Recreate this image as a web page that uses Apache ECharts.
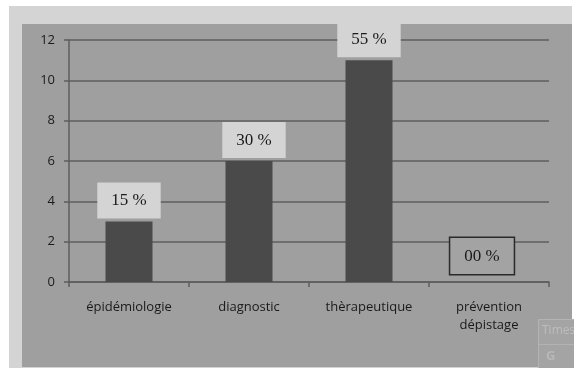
<!DOCTYPE html>
<html>
<head>
<meta charset="utf-8">
<script src="https://cdn.jsdelivr.net/npm/echarts@6/dist/echarts.min.js"></script>
<style>
  html, body { margin: 0; padding: 0; background: #ffffff; }
  #chart { width: 574px; height: 368px; }
</style>
</head>
<body>
<div id="chart"></div>
<script>
// Répartition des publications par domaine
const categories = ['épidémiologie', 'diagnostic', 'thèrapeutique', 'prévention\ndépistage'];
const counts = [3, 6, 11, 0];
const pctLabels = ['15 %', '30 %', '55 %', '00 %'];
const yTicks = { min: 0, max: 12, interval: 2 };

const chart = echarts.init(document.getElementById('chart'), null, { renderer: 'canvas' });

const labelBase = {
  show: true,
  position: 'top',
  distance: 3,
  fontFamily: 'Liberation Serif',
  fontSize: 17,
  color: '#1a1a1a',
  backgroundColor: '#d4d4d4',
  padding: [9, 14, 8, 14],
  lineHeight: 19
};

const barData = counts.map((v, i) => {
  const item = { value: v, label: Object.assign({}, labelBase, { formatter: pctLabels[i] }) };
  if (i === 1) item.label.offset = [5, 0];
  if (v === 0) {
    item.label.backgroundColor = '#a3a3a3';
    item.label.borderColor = '#2a2a2a';
    item.label.borderWidth = 1.5;
    item.label.distance = 8;
    item.label.offset = [-7, 0];
  }
  return item;
});

chart.setOption({
  animation: false,
  backgroundColor: '#ffffff',
  graphic: [
    { type: 'rect', z: -10, shape: { x: 9, y: 6, width: 563, height: 362 }, style: { fill: '#d4d4d4' } },
    { type: 'rect', z: -9, shape: { x: 22, y: 24, width: 550, height: 343 }, style: { fill: '#9f9f9f' } },
    { type: 'rect', z: 50, shape: { x: 538.5, y: 319.5, width: 40, height: 50 }, style: { fill: '#a4a4a4', stroke: '#b3b3b3', lineWidth: 1 } },
    { type: 'line', z: 51, shape: { x1: 538.5, y1: 344.5, x2: 574, y2: 344.5 }, style: { stroke: '#b3b3b3', lineWidth: 1 } },
    { type: 'text', z: 52, style: { x: 542, y: 325, text: 'Times', fill: '#bdbdbd', fontSize: 12, fontFamily: 'Open Sans' } },
    { type: 'text', z: 52, style: { x: 546, y: 350, text: 'G', fill: '#b8b8b8', fontSize: 13, fontWeight: 'bold', fontFamily: 'Open Sans' } }
  ],
  grid: { left: 69, right: 25, top: 40, bottom: 86, containLabel: false },
  xAxis: {
    type: 'category',
    data: categories,
    axisLine: { show: true, lineStyle: { color: '#5e5e5e', width: 1.5 } },
    axisTick: { show: true, length: 5, alignWithLabel: false, lineStyle: { color: '#5e5e5e', width: 1.5 } },
    axisLabel: { margin: 16, color: '#1a1a1a', fontSize: 13, fontFamily: 'Open Sans', lineHeight: 18 }
  },
  yAxis: {
    type: 'value',
    min: yTicks.min,
    max: yTicks.max,
    interval: yTicks.interval,
    axisLine: { show: true, lineStyle: { color: '#5e5e5e', width: 1.5 } },
    axisTick: { show: true, length: 5, lineStyle: { color: '#5e5e5e', width: 1.5 } },
    axisLabel: { margin: 14, color: '#1a1a1a', fontSize: 13, fontFamily: 'Open Sans' },
    splitLine: { show: true, lineStyle: { color: '#5e5e5e', width: 1.5 } }
  },
  series: [{
    type: 'bar',
    data: barData,
    barWidth: 47,
    itemStyle: { color: '#4a4a4a' }
  }]
});
</script>
</body>
</html>
